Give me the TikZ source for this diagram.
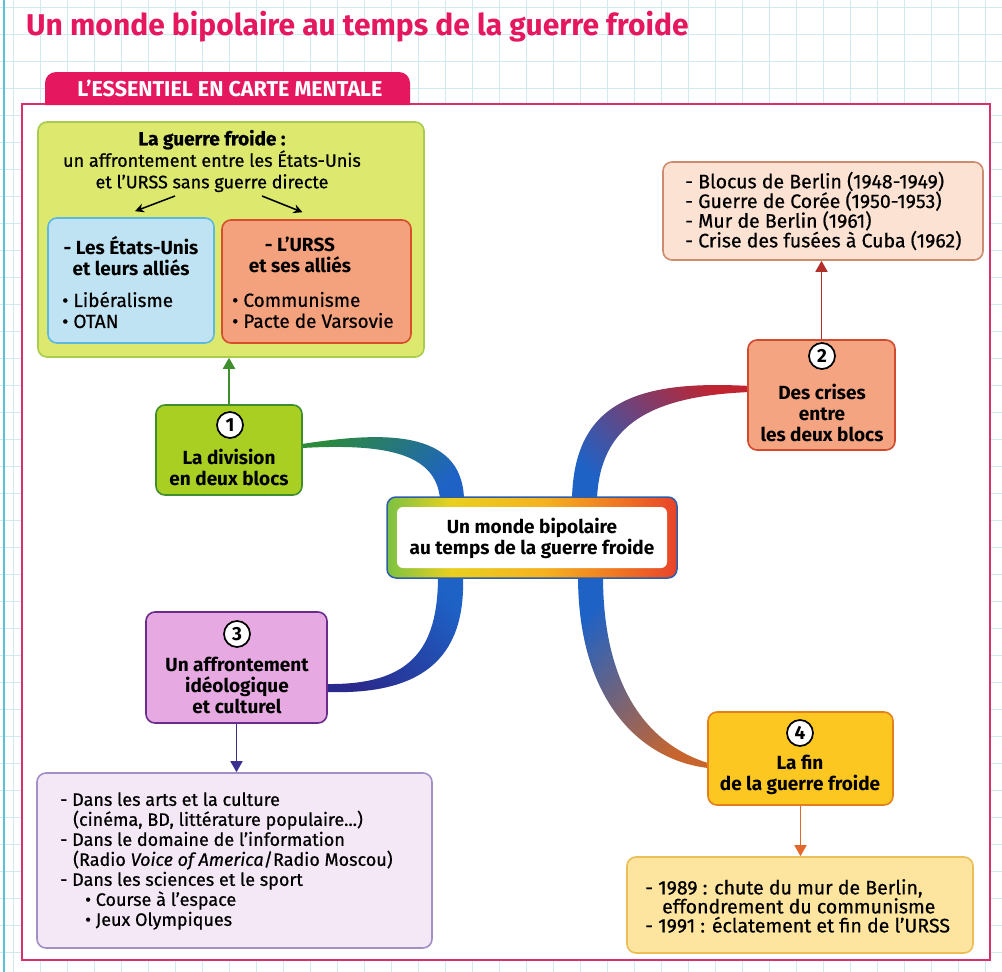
\documentclass[tikz,border=0pt]{standalone}
\usepackage{fontspec}
\setmainfont{Fira Sans}
\newfontfamily\medfont{Fira Sans}[FakeBold=0.6]
\usetikzlibrary{shadings,arrows.meta,calc}
\definecolor{gridc}{HTML}{CFEAF0}
\definecolor{edgec}{HTML}{5BC3D8}
\definecolor{pinkc}{HTML}{E5175F}
\definecolor{framec}{HTML}{D8306A}
\definecolor{aFill}{HTML}{DCE86E}
\definecolor{aLine}{HTML}{A8CC4E}
\definecolor{usFill}{HTML}{BFE3F3}
\definecolor{usLine}{HTML}{5DB8E0}
\definecolor{suFill}{HTML}{F4A27E}
\definecolor{suLine}{HTML}{D64E2C}
\definecolor{oneFill}{HTML}{A9CF22}
\definecolor{oneLine}{HTML}{3E8E2E}
\definecolor{twoFill}{HTML}{F5A482}
\definecolor{twoLine}{HTML}{CF4A2E}
\definecolor{bFill}{HTML}{FBE2D3}
\definecolor{bLine}{HTML}{CF8B70}
\definecolor{twoArrow}{HTML}{B22E2A}
\definecolor{threeFill}{HTML}{E6A9E2}
\definecolor{threeLine}{HTML}{6B2C8C}
\definecolor{cFill}{HTML}{F4E8F6}
\definecolor{cLine}{HTML}{A28FC6}
\definecolor{threeArrow}{HTML}{3B2F8F}
\definecolor{fourFill}{HTML}{FCC720}
\definecolor{fourLine}{HTML}{E3801C}
\definecolor{dFill}{HTML}{FDE49F}
\definecolor{dLine}{HTML}{ECBE58}
\definecolor{fourArrow}{HTML}{E2682A}
\definecolor{brGreen}{HTML}{2C8A3C}
\definecolor{brBlue}{HTML}{1E62C6}
\definecolor{brRed}{HTML}{BF2430}
\definecolor{brPurple}{HTML}{5B2D8E}
\definecolor{brNavy}{HTML}{2A2A8C}
\definecolor{brMid}{HTML}{8E2E6A}
\definecolor{brOrange}{HTML}{C8652E}
\definecolor{ringG}{HTML}{7CC242}
\definecolor{ringY}{HTML}{E8D020}
\definecolor{ringY2}{HTML}{F5B220}
\definecolor{ringO}{HTML}{F07A22}
\definecolor{ringR}{HTML}{E8442A}
\definecolor{ringBlue}{HTML}{2F5DA8}
\pgfdeclarehorizontalshading{ringshade}{100bp}{color(0bp)=(ringG); color(25bp)=(ringG); color(36bp)=(ringY); color(52bp)=(ringY2); color(64bp)=(ringO); color(75bp)=(ringR); color(100bp)=(ringR)}
\newcommand\mybox[6]{\node[box, #6, minimum width=#3-#1, minimum height=#4-#2, inner sep=0pt] (#5) at ({(#1+#3)/2},{(#2+#4)/2}) {};}
\tikzset{
 box/.style={draw, rounded corners=9pt, line width=1.6pt},
 numc/.style={circle, draw=black, fill=white, line width=1.7pt, inner sep=0pt, minimum size=26pt, font=\bfseries\fontsize{19}{19}\selectfont},
 btxt/.style={align=center, inner sep=0pt, font=\bfseries\fontsize{19}{21}\selectfont},
 ctxt/.style={align=center, inner sep=0pt, font=\medfont\fontsize{18}{21.5}\selectfont},
 ltxt/.style={align=left, anchor=west, inner sep=0pt, font=\medfont\fontsize{19.5}{19.7}\selectfont},
 bigarrow/.style={line width=2pt, -{Triangle[length=11pt,width=12pt]}},
 smallarrow/.style={line width=1.5pt, -{Stealth[length=9pt,width=9pt]}},
}
\begin{document}
\begin{tikzpicture}[x=1pt,y=-1pt]
\useasboundingbox (0,0) rectangle (1002,972);
\fill[white] (0,0) rectangle (1002,972);
\foreach \x in {13,40,...,1002} \draw[gridc, line width=0.8pt] (\x,0) -- (\x,972);
\foreach \y in {7,34,...,972} \draw[gridc, line width=0.8pt] (0,\y) -- (1002,\y);
\draw[edgec, line width=2pt] (4,0) -- (4,972);
% title
\node[anchor=west, inner sep=0pt, text=pinkc, font=\bfseries\fontsize{30}{34}\selectfont] (title) at (26,27) {Un monde bipolaire au temps de la guerre froide};
% frame
\fill[white] (22,104) rectangle (990,960);
\draw[framec, line width=2pt] (22,104) rectangle (990,960);
\fill[pinkc] (45,105) [rounded corners=11pt] -- (45,72) -- (410,72) [sharp corners] -- (410,105) -- cycle;
\node[text=white, inner sep=0pt, font=\bfseries\fontsize{21.5}{22}\selectfont] (tab) at (230,88) {L’ESSENTIEL EN CARTE MENTALE};
% branches
\shade[top color=brGreen, bottom color=brBlue, shading angle=45]
  (302,444) .. controls (380,432) and (462,428) .. (464,499) -- (440,499) .. controls (436,455) and (390,443) .. (302,448) -- cycle;
\shade[top color=brRed, middle color=brPurple, bottom color=brBlue, shading angle=-45]
  (750,386) .. controls (640,380) and (574,400) .. (572,499) -- (597,499) .. controls (600,425) and (650,396) .. (750,392) -- cycle;
\shade[top color=brBlue, bottom color=brNavy, shading angle=-45]
  (463,576) .. controls (466,660) and (420,695) .. (327,692) -- (327,684) .. controls (410,685) and (438,650) .. (438,576) -- cycle;
\shade[top color=brBlue, middle color=brMid, bottom color=brOrange, shading angle=45]
  (578,576) .. controls (578,700) and (640,760) .. (708,768) -- (708,763) .. controls (650,745) and (603,690) .. (603,576) -- cycle;
% central box
\shade[shading=ringshade, rounded corners=9pt] (387,497) rectangle (677,578);
\fill[white, rounded corners=6pt] (397,507) rectangle (667,568);
\draw[ringBlue, line width=1.5pt, rounded corners=9pt] (387,497) rectangle (677,578);
\node[btxt] (core) at (532,538) {Un monde bipolaire\\au temps de la guerre froide};
% box A
\mybox{38}{122}{424}{357}{boxA}{fill=aFill, draw=aLine}
\node[ctxt] (atitle) at (212,161) {\bfseries\fontsize{19}{21.5}\selectfont La guerre froide :\\\medfont\fontsize{18}{21.5}\selectfont un affrontement entre les États-Unis\\et l’URSS sans guerre directe};
\mybox{48}{218}{214}{343}{usbox}{fill=usFill, draw=usLine}
\mybox{222}{220}{411}{343}{subox}{fill=suFill, draw=suLine}
\draw[smallarrow] (175,196) -- ($(usbox.north)+(4,-6)$);
\draw[smallarrow] (262,196) -- ($(subox.north)+(-14,-7)$);
\node[btxt] (ustitle) at (131,256) {- Les États-Unis\\et leurs alliés};
\node[ltxt, font=\medfont\fontsize{19}{21}\selectfont] (uslist) at (62,310) {• Libéralisme\\• OTAN};
\node[btxt] (sutitle) at (300,255) {- L’URSS\\et ses alliés};
\node[ltxt, font=\medfont\fontsize{19}{21}\selectfont] (sulist) at (232,310) {• Communisme\\• Pacte de Varsovie};
% node 1
\mybox{156}{405}{302}{495}{n1}{fill=oneFill, draw=oneLine}
\node[numc] (n1c) at (230,425) {1};
\node[btxt] (n1t) at (229,467) {La division\\en deux blocs};
\draw[bigarrow, oneLine] (n1.north) -- (n1.north |- boxA.south);
% node 2
\mybox{748}{340}{895}{450}{n2}{fill=twoFill, draw=twoLine}
\node[numc] (n2c) at (822,356) {2};
\node[btxt] (n2t) at (822,413) {Des crises\\entre\\les deux blocs};
\mybox{663}{162}{983}{260}{boxB}{fill=bFill, draw=bLine}
\node[ltxt] (blist) at (685,211) {- Blocus de Berlin (1948-1949)\\- Guerre de Corée (1950-1953)\\- Mur de Berlin (1961)\\- Crise des fusées à Cuba (1962)};
\draw[bigarrow, twoArrow, line width=1.6pt] (n2.north) -- (n2.north |- boxB.south);
% node 3
\mybox{146}{612}{327}{723}{n3}{fill=threeFill, draw=threeLine}
\node[numc] (n3c) at (237,634) {3};
\node[btxt] (n3t) at (237,685) {Un affrontement\\idéologique\\et culturel};
\mybox{37}{773}{432}{948}{boxC}{fill=cFill, draw=cLine}
\node[ltxt, font=\medfont\fontsize{18}{20}\selectfont] (clist) at (60,861) {- Dans les arts et la culture\\\hspace*{13pt}(cinéma, BD, littérature populaire...)\\- Dans le domaine de l’information\\\hspace*{13pt}(Radio \textit{Voice of America}/Radio Moscou)\\- Dans les sciences et le sport\\\hspace*{25pt}• Course à l’espace\\\hspace*{25pt}• Jeux Olympiques};
\draw[bigarrow, threeArrow, line width=1.6pt] (n3.south) -- (n3.south |- boxC.north);
% node 4
\mybox{708}{712}{893}{805}{n4}{fill=fourFill, draw=fourLine}
\node[numc] (n4c) at (800,733) {4};
\node[btxt] (n4t) at (800,775) {La fin\\de la guerre froide};
\mybox{627}{857}{973}{953}{boxD}{fill=dFill, draw=dLine}
\node[ltxt, font=\medfont\fontsize{19.5}{19}\selectfont] (dlist) at (645,906) {- 1989 : chute du mur de Berlin,\\\hspace*{17pt}effondrement du communisme\\- 1991 : éclatement et fin de l’URSS};
\draw[bigarrow, fourArrow, line width=1.6pt] (n4.south) -- (n4.south |- boxD.north);
\end{tikzpicture}
\end{document}
